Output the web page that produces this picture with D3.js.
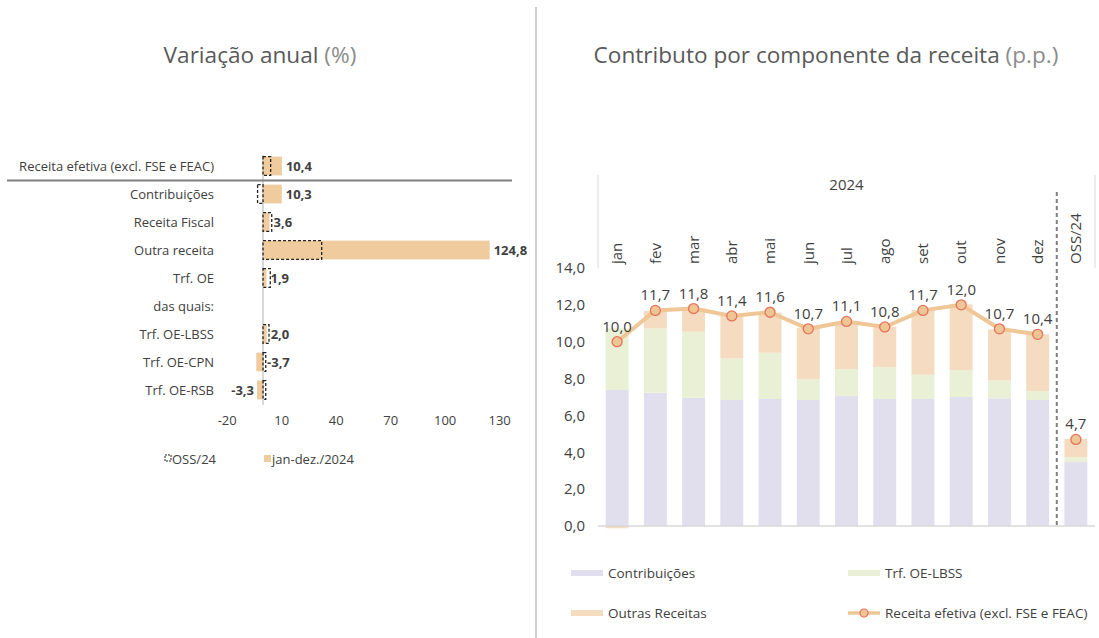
<!DOCTYPE html>
<html>
<head>
<meta charset="utf-8">
<script src="https://cdn.jsdelivr.net/npm/d3@7"></script>
<style>
  body { margin: 0; background: #fff; }
  svg { font-family: "Open Sans", "Noto Sans", sans-serif; }
</style>
</head>
<body>
<svg id="chart" width="1099" height="638"></svg>
<script>
// ---- left panel: annual change (%)
var varCategories = ["Receita efetiva (excl. FSE e FEAC)", "Contribuições", "Receita Fiscal", "Outra receita",
  "Trf. OE", "das quais:", "Trf. OE-LBSS", "Trf. OE-CPN", "Trf. OE-RSB"];
var varYear = [10.4, 10.3, 3.6, 124.8, 1.9, null, 2.0, -3.7, -3.3];
var varOss = [4.2, -3.0, 4.8, 32.3, 4.0, null, 3.3, 1.5, 1.5];
var varTicks = [-20, 10, 40, 70, 100, 130];

// ---- right panel: contribution by component (p.p.)
var months = ["jan", "fev", "mar", "abr", "mai", "jun", "jul", "ago", "set", "out", "nov", "dez", "OSS/24"];
var contribuicoes = [7.38, 7.23, 6.96, 6.84, 6.89, 6.84, 7.05, 6.89, 6.89, 7.0, 6.93, 6.84, 3.47];
var trfLbss = [3.35, 3.5, 3.58, 2.26, 2.51, 1.14, 1.47, 1.74, 1.32, 1.46, 0.97, 0.49, 0.26];
var outrasReceitas = [-0.12, 0.94, 1.26, 2.35, 2.18, 2.78, 2.51, 2.19, 3.51, 3.57, 2.77, 3.07, 0.99];
var receitaEfetiva = [10.0, 11.7, 11.8, 11.4, 11.6, 10.7, 11.1, 10.8, 11.7, 12.0, 10.7, 10.4, 4.7];
var yTicks = [0, 2, 4, 6, 8, 10, 12, 14];

var TEXT = "#404040";
var pt = d3.formatLocale({ decimal: ",", thousands: ".", grouping: [3], currency: ["", "€"], minus: "-" });
var fmt = pt.format(".1f");
var fmtInt = pt.format("d");

var svg = d3.select("#chart");

// titles + divider
function title(x, main, unit) {
  var t = svg.append("text")
    .attr("x", x).attr("y", 63)
    .attr("text-anchor", "middle")
    .style("font-size", "22.6px");
  t.append("tspan").attr("fill", "#595959").text(main);
  t.append("tspan").attr("fill", "#8c8c8c").text(" " + unit);
}
title(260, "Variação anual", "(%)");
title(826, "Contributo por componente da receita", "(p.p.)");

svg.append("line")
  .attr("x1", 536).attr("x2", 536).attr("y1", 7).attr("y2", 638)
  .attr("stroke", "#bfbfbf").attr("stroke-width", 1.5);

// ================= left chart
var left = svg.append("g").classed("variacao", true);

var xL = d3.scaleLinear().domain([-20, 130]).range([226.7, 499.1]);
var yL = d3.scaleBand().domain(varCategories).range([152, 404])
  .paddingInner(0.33).paddingOuter(0.165);

var rowsL = varCategories.map(function (c, i) {
  return { cat: c, v: varYear[i], oss: varOss[i] };
});

left.append("line")
  .attr("x1", xL(0)).attr("x2", xL(0)).attr("y1", 155).attr("y2", 405)
  .attr("stroke", "#d9d9d9").attr("stroke-width", 2);

left.selectAll("rect.year")
  .data(rowsL.filter(function (d) { return d.v !== null; }))
  .enter().append("rect")
  .classed("year", true)
  .attr("x", function (d) { return xL(Math.min(0, d.v)); })
  .attr("y", function (d) { return yL(d.cat); })
  .attr("width", function (d) { return Math.abs(xL(d.v) - xL(0)); })
  .attr("height", yL.bandwidth())
  .attr("fill", "#efcb9e");

left.selectAll("rect.oss")
  .data(rowsL.filter(function (d) { return d.oss !== null; }))
  .enter().append("rect")
  .classed("oss", true)
  .attr("x", function (d) { return xL(Math.min(0, d.oss)); })
  .attr("y", function (d) { return yL(d.cat); })
  .attr("width", function (d) { return Math.abs(xL(d.oss) - xL(0)); })
  .attr("height", yL.bandwidth())
  .attr("fill", "none")
  .attr("stroke", "#222")
  .attr("stroke-width", 1.3)
  .attr("stroke-dasharray", "3,2");

// separator under the total
left.append("line")
  .attr("x1", 7).attr("x2", 512).attr("y1", 180.5).attr("y2", 180.5)
  .attr("stroke", "#7f7f7f").attr("stroke-width", 2);

left.selectAll("text.cat")
  .data(varCategories)
  .enter().append("text")
  .classed("cat", true)
  .attr("x", 214)
  .attr("y", function (d) { return yL(d) + yL.bandwidth() / 2; })
  .attr("dy", "0.35em")
  .attr("text-anchor", "end")
  .attr("fill", TEXT)
  .style("font-size", "13px")
  .text(function (d) { return d; });

var labelsAtBase = ["Trf. OE-CPN"];
left.selectAll("text.val")
  .data(rowsL.filter(function (d) { return d.v !== null; }))
  .enter().append("text")
  .classed("val", true)
  .attr("x", function (d) {
    if (d.v < 0 && labelsAtBase.indexOf(d.cat) < 0) return xL(d.v) - 3;
    return xL(Math.max(0, d.v)) + 4;
  })
  .attr("y", function (d) { return yL(d.cat) + yL.bandwidth() / 2; })
  .attr("dy", "0.35em")
  .attr("text-anchor", function (d) {
    return (d.v < 0 && labelsAtBase.indexOf(d.cat) < 0) ? "end" : "start";
  })
  .attr("fill", TEXT)
  .style("font-size", "13px")
  .style("font-weight", "bold")
  .text(function (d) { return fmt(d.v); });

var axL = left.append("g")
  .attr("transform", "translate(0,406)")
  .call(d3.axisBottom(xL).tickValues(varTicks).tickSize(0).tickPadding(10).tickFormat(fmtInt));
axL.select(".domain").remove();
axL.selectAll("text").attr("fill", TEXT).style("font-size", "13px")
  .style("font-family", "\"Open Sans\", sans-serif");

// left legend
var legL = left.append("g").attr("transform", "translate(0,459)");
legL.append("rect").attr("x", 165).attr("y", -4).attr("width", 6).attr("height", 6)
  .attr("fill", "none").attr("stroke", "#222").attr("stroke-width", 1).attr("stroke-dasharray", "2,1");
legL.append("text").attr("x", 172).attr("dy", "0.35em").attr("fill", TEXT)
  .style("font-size", "13px").text("OSS/24");
legL.append("rect").attr("x", 264).attr("y", -4).attr("width", 7).attr("height", 7).attr("fill", "#efcb9e");
legL.append("text").attr("x", 272).attr("dy", "0.35em").attr("fill", TEXT)
  .style("font-size", "13px").text("jan-dez./2024");

// ================= right chart
var right = svg.append("g").classed("contributo", true);

var xR = d3.scaleBand().domain(months).range([598, 1095]).paddingInner(0.4).paddingOuter(0.2);
var yR = d3.scaleLinear().domain([0, 14]).range([526, 268]);

var colors = { contrib: "#e1dfee", lbss: "#e9f0d6", outras: "#f5dbbf" };

var stackRows = months.map(function (m, i) {
  return { m: m, contrib: contribuicoes[i], lbss: trfLbss[i], outras: outrasReceitas[i] };
});
var series = d3.stack().keys(["contrib", "lbss", "outras"])
  .offset(d3.stackOffsetDiverging)(stackRows);

right.selectAll("g.layer")
  .data(series)
  .enter().append("g")
  .classed("layer", true)
  .attr("fill", function (s) { return colors[s.key]; })
  .selectAll("rect")
  .data(function (s) { return s; })
  .enter().append("rect")
  .attr("x", function (d) { return xR(d.data.m); })
  .attr("y", function (d) { return yR(Math.max(d[0], d[1])); })
  .attr("width", xR.bandwidth())
  .attr("height", function (d) { return Math.abs(yR(d[0]) - yR(d[1])); });

// baseline
right.append("line")
  .attr("x1", 598).attr("x2", 1095).attr("y1", yR(0)).attr("y2", yR(0))
  .attr("stroke", "#d9d9d9").attr("stroke-width", 1.5);

// y axis labels
var axR = right.append("g")
  .attr("transform", "translate(598,0)")
  .call(d3.axisLeft(yR).tickValues(yTicks).tickSize(0).tickPadding(13).tickFormat(fmt));
axR.select(".domain").remove();
axR.selectAll("text").attr("fill", TEXT).style("font-size", "15px")
  .style("font-family", "\"Open Sans\", sans-serif");

// category header
var sepX = (xR("dez") + xR.bandwidth() + xR("OSS/24")) / 2;
right.selectAll("line.hdr")
  .data([598, 1095])
  .enter().append("line")
  .classed("hdr", true)
  .attr("x1", function (d) { return d; }).attr("x2", function (d) { return d; })
  .attr("y1", 175).attr("y2", 268)
  .attr("stroke", "#d9d9d9").attr("stroke-width", 1);

right.append("line")
  .attr("x1", sepX).attr("x2", sepX).attr("y1", 192).attr("y2", yR(0))
  .attr("stroke", "#7f7f7f").attr("stroke-width", 2).attr("stroke-dasharray", "4,3");

right.append("text")
  .attr("x", (598 + 1095) / 2).attr("y", 185).attr("dy", "0.35em")
  .attr("text-anchor", "middle").attr("fill", TEXT)
  .style("font-size", "15px").text("2024");

right.selectAll("text.month")
  .data(months)
  .enter().append("text")
  .classed("month", true)
  .attr("transform", function (d) {
    return "translate(" + (xR(d) + xR.bandwidth() / 2) + ",264) rotate(-90)";
  })
  .attr("dy", "0.35em")
  .attr("fill", TEXT)
  .style("font-size", "15px")
  .text(function (d) { return d; });

// line + markers
var pts = months.map(function (m, i) { return { m: m, v: receitaEfetiva[i] }; });
var cx = function (d) { return xR(d.m) + xR.bandwidth() / 2; };

right.append("path")
  .datum(pts.slice(0, 12))
  .attr("d", d3.line().x(cx).y(function (d) { return yR(d.v); }))
  .attr("fill", "none")
  .attr("stroke", "#efc796")
  .attr("stroke-width", 4);

right.selectAll("circle.pt")
  .data(pts)
  .enter().append("circle")
  .classed("pt", true)
  .attr("cx", cx)
  .attr("cy", function (d) { return yR(d.v); })
  .attr("r", 5)
  .attr("fill", "#f0c594")
  .attr("stroke", "#e5735b")
  .attr("stroke-width", 1.3);

right.selectAll("text.lbl")
  .data(pts)
  .enter().append("text")
  .classed("lbl", true)
  .attr("x", cx)
  .attr("y", function (d) { return yR(d.v) - 10; })
  .attr("text-anchor", "middle")
  .attr("fill", TEXT)
  .style("font-size", "15px")
  .text(function (d) { return fmt(d.v); });

// right legend
var legendItems = [
  { label: "Contribuições", color: colors.contrib, type: "bar", x: 571, y: 573 },
  { label: "Trf. OE-LBSS", color: colors.lbss, type: "bar", x: 848, y: 573 },
  { label: "Outras Receitas", color: colors.outras, type: "bar", x: 571, y: 613 },
  { label: "Receita efetiva (excl. FSE e FEAC)", color: "#efc796", type: "line", x: 848, y: 613 }
];
var leg = right.selectAll("g.leg")
  .data(legendItems)
  .enter().append("g")
  .classed("leg", true)
  .attr("transform", function (d) { return "translate(" + d.x + "," + d.y + ")"; });

leg.filter(function (d) { return d.type === "bar"; })
  .append("rect")
  .attr("x", 0).attr("y", -3).attr("width", 32).attr("height", 6)
  .attr("fill", function (d) { return d.color; });

var lineLeg = leg.filter(function (d) { return d.type === "line"; });
lineLeg.append("line")
  .attr("x1", 0).attr("x2", 32).attr("y1", 0).attr("y2", 0)
  .attr("stroke", "#efc796").attr("stroke-width", 3.5);
lineLeg.append("circle")
  .attr("cx", 16).attr("cy", 0).attr("r", 4)
  .attr("fill", "#f0c594").attr("stroke", "#e5735b").attr("stroke-width", 1.2);

leg.append("text")
  .attr("x", 37).attr("dy", "0.35em")
  .attr("fill", TEXT)
  .style("font-size", "13.5px")
  .text(function (d) { return d.label; });
</script>
</body>
</html>
